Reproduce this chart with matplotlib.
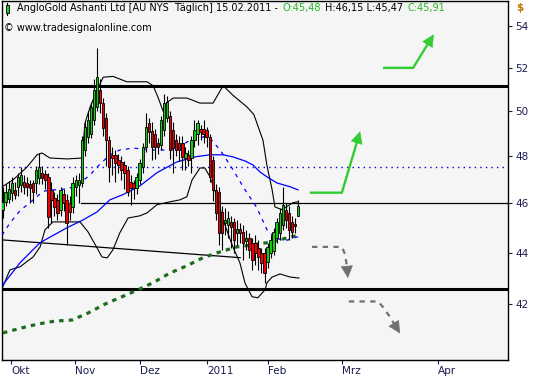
import numpy as np
import matplotlib
matplotlib.use('Agg')
import matplotlib.pyplot as plt
from matplotlib.offsetbox import TextArea, HPacker, AnchoredOffsetbox
from matplotlib.ticker import FixedLocator, FixedFormatter, NullLocator
from matplotlib.patches import Rectangle

# ---- candle data (bar index 0..97, late Sep 2010 .. 15.02.2011) ----
opens = [45.74, 46.07, 46.20, 46.45, 46.55, 46.70, 46.78, 46.90, 46.85, 46.80,
         46.86, 46.86, 47.08, 47.30, 47.25, 47.12, 46.57, 46.24, 46.15, 45.74,
         46.40, 46.15, 46.00, 45.86, 46.70, 46.78, 46.86, 48.28, 48.83, 49.00,
         49.60, 50.18, 50.96, 50.37, 49.70, 48.70, 48.05, 48.05, 47.85, 47.76,
         47.63, 47.41, 46.90, 46.86, 46.66, 46.99, 47.54, 48.40, 49.45, 49.10,
         49.00, 48.60, 48.50, 49.15, 49.70, 49.80, 49.15, 48.70, 48.60, 48.60,
         47.93, 48.05, 47.93, 48.70, 49.00, 49.20, 49.20, 49.15, 48.83, 47.85,
         46.57, 46.49, 45.65, 45.20, 45.12, 45.24, 45.24, 44.80, 44.95, 44.84,
         44.45, 44.60, 44.40, 44.40, 44.19, 43.99, 43.99, 43.64, 43.99, 44.07,
         44.60, 44.80, 45.12, 45.74, 45.61, 45.24, 45.16, 45.48]
highs = [46.70, 46.80, 46.95, 47.10, 46.90, 47.30, 47.55, 47.20, 47.10, 47.00,
         47.00, 47.60, 48.15, 47.60, 47.40, 47.30, 46.90, 46.50, 46.40, 46.70,
         46.60, 46.40, 46.30, 47.10, 47.20, 47.30, 48.90, 49.50, 50.00, 50.40,
         51.50, 52.93, 51.50, 50.60, 49.90, 48.90, 48.40, 48.30, 48.10, 48.00,
         47.80, 47.60, 47.20, 47.00, 47.30, 47.90, 48.60, 49.90, 49.70, 49.50,
         49.20, 48.80, 49.80, 50.80, 50.70, 50.00, 49.50, 49.00, 48.90, 48.90,
         48.40, 48.30, 48.90, 49.60, 49.60, 49.40, 49.60, 49.30, 49.00, 48.00,
         46.80, 46.70, 45.90, 45.80, 45.70, 45.50, 45.40, 45.30, 45.20, 45.10,
         44.90, 44.80, 44.60, 44.70, 44.50, 44.20, 44.20, 44.40, 44.70, 45.00,
         45.40, 45.80, 46.70, 46.00, 45.90, 45.50, 45.40, 46.15]
lows = [45.40, 45.90, 46.00, 46.10, 46.20, 46.30, 46.50, 46.40, 46.30, 46.00,
        46.00, 46.40, 46.80, 46.80, 46.60, 45.00, 45.20, 45.50, 45.30, 45.50,
        45.70, 44.30, 45.30, 45.60, 46.30, 46.00, 46.70, 48.00, 48.60, 48.80,
        49.40, 50.00, 49.90, 48.90, 47.60, 46.90, 47.20, 46.90, 47.30, 47.00,
        46.60, 46.30, 45.95, 46.20, 46.40, 46.80, 47.30, 48.20, 48.60, 47.85,
        47.90, 48.10, 48.30, 48.90, 49.50, 47.90, 47.30, 48.00, 47.80, 47.40,
        47.40, 47.60, 47.30, 48.40, 48.50, 48.70, 48.60, 48.40, 46.90, 46.10,
        45.30, 44.30, 44.10, 44.70, 44.60, 44.20, 44.00, 44.30, 44.40, 43.70,
        44.10, 43.80, 43.30, 43.50, 43.30, 43.20, 42.80, 43.40, 43.80, 43.90,
        44.40, 44.50, 44.90, 45.00, 44.50, 44.60, 44.80, 45.47]
closes = [46.07, 46.49, 46.60, 46.86, 46.35, 47.12, 47.20, 46.70, 46.70, 46.65,
          46.49, 47.41, 47.54, 47.08, 46.99, 45.45, 46.15, 45.86, 45.61, 46.57,
          46.00, 45.20, 45.65, 46.86, 46.99, 46.99, 48.70, 49.30, 49.60, 50.18,
          50.96, 51.56, 50.37, 49.24, 48.70, 47.54, 47.93, 47.70, 47.63, 47.41,
          47.30, 46.49, 46.66, 46.66, 47.12, 47.70, 48.40, 49.30, 49.05, 48.40,
          48.40, 48.40, 49.60, 50.37, 50.40, 48.28, 48.35, 48.28, 48.28, 47.98,
          48.15, 47.85, 48.70, 49.15, 49.45, 49.05, 49.00, 48.83, 47.12, 46.57,
          45.61, 44.80, 44.80, 45.32, 45.40, 45.04, 44.51, 44.95, 44.80, 44.40,
          44.60, 44.11, 43.72, 43.99, 43.83, 43.60, 43.20, 44.23, 44.51, 44.84,
          45.24, 45.61, 45.95, 45.32, 44.92, 44.84, 45.08, 45.91]

# ---- indicator lines read at sampled bar positions ----
sma_x = [-0.2, 5.7, 12.3, 21.1, 26.4, 31.0, 35.2, 39.5, 45.1, 50.7, 57.2, 63.2,
         68.1, 72.4, 75.6, 79.6, 82.2, 84.5, 86.8, 90.1, 94.4, 97.0]
sma_y = [42.70, 43.60, 44.40, 45.00, 45.32, 45.65, 46.15, 46.37, 46.74, 47.30, 47.76, 47.98,
         48.07, 48.07, 47.98, 47.80, 47.63, 47.33, 47.12, 46.86, 46.70, 46.57]
ema_x = [-0.2, 2.4, 5.7, 10.0, 13.2, 15.5, 18.8, 23.8, 28.7, 31.0, 35.2, 38.5, 42.8,
         49.4, 55.9, 61.5, 66.4, 68.7, 71.4, 75.3, 79.6, 83.5, 86.8, 89.4, 92.7, 97.0]
ema_y = [44.70, 45.20, 45.70, 46.15, 46.50, 46.57, 46.57, 46.70, 47.20, 47.54, 48.07, 48.28, 48.36,
         48.28, 48.28, 48.70, 48.87, 48.70, 48.28, 47.50, 46.57, 45.82, 44.92, 44.60, 44.47, 44.64]
ma200_x = [0.1, 6.0, 11.6, 17.2, 22.8, 28.0, 33.6, 39.2, 44.5, 49.4, 55.0, 60.5, 65.8,
           71.4, 76.9, 82.2, 88.5, 93.7, 96.7]
ma200_y = [40.92, 41.10, 41.25, 41.36, 41.40, 41.66, 42.00, 42.28, 42.55, 42.82, 43.20, 43.48, 43.80,
           44.03, 44.23, 44.31, 44.43, 44.60, 44.68]
bbu_x = [-0.2, 3.4, 8.0, 11.3, 12.9, 15.5, 21.1, 26.1, 27.0, 28.7, 31.0, 33.0, 36.2, 40.8,
         47.4, 49.4, 51.0, 52.7, 54.0, 56.0, 60.5, 64.8, 69.1, 72.4, 75.6, 80.2, 82.5, 85.5,
         86.8, 88.5, 89.4, 91.7, 95.3, 97.0]
bbu_y = [46.70, 46.99, 47.54, 48.07, 48.15, 47.93, 47.89, 47.93, 49.45, 50.18, 50.96, 51.56, 51.60, 51.35,
         51.35, 51.17, 50.64, 50.00, 50.40, 50.60, 50.60, 50.37, 50.37, 51.17, 50.73, 50.20, 49.85, 48.70,
         47.60, 46.57, 45.86, 45.74, 46.03, 46.07]
bbl_x = [-0.2, 2.4, 5.7, 10.0, 12.3, 13.9, 16.5, 25.4, 28.0, 31.0, 32.6, 34.3, 36.2, 38.5,
         41.2, 45.1, 47.4, 50.7, 55.0, 58.2, 60.5, 62.2, 64.8, 66.4, 68.1, 70.4, 72.4, 75.6,
         77.9, 79.6, 81.9, 83.8, 86.2, 86.8, 88.5, 91.1, 94.4, 97.3]
bbl_y = [42.60, 43.32, 43.44, 43.83, 44.23, 44.92, 45.24, 45.24, 44.84, 44.19, 43.83, 43.79, 44.11, 44.80,
         45.40, 45.49, 45.61, 45.95, 46.07, 46.15, 46.28, 46.99, 47.50, 47.50, 47.12, 46.28, 45.32, 44.23,
         43.60, 42.80, 42.28, 42.24, 42.55, 42.82, 43.04, 43.16, 43.04, 43.00]

# ---- horizontal levels / trendline ----
res_top = 51.17
sup_bottom = 42.58
level_46 = 46.00
dotted_level = 47.55
trend_x = [-0.2, 78.0]
trend_y = [44.51, 43.80]

# ---- scenario arrows ----
up1_x, up1_y = [100.9, 111.4, 117.4], [46.45, 46.45, 49.10]
up2_x, up2_y = [124.9, 134.8, 141.6], [52.0, 52.0, 53.6]
dn1_x, dn1_y = [101.6, 111.4, 112.4, 113.0, 113.4], [44.23, 44.23, 43.95, 43.50, 43.00]
dn2_x, dn2_y = [113.7, 123.3, 124.8, 127.0, 130.5], [42.10, 42.10, 41.90, 41.55, 40.90]

# ---- axis ----
month_pos = [2.74, 23.75, 45.1, 67.1, 87.1, 111.4, 143.0]
month_lbl = ['Okt', 'Nov', 'Dez', '2011', 'Feb', 'Mrz', 'Apr']
price_ticks = [42, 44, 46, 48, 50, 52, 54]

W, H = 533, 380
fig = plt.figure(figsize=(W / 100, H / 100), dpi=100)
fig.patch.set_facecolor('white')
ax = fig.add_axes([2 / W, 1 - 360 / H, 506 / W, 359 / H])
ax.set_facecolor('#f5f5f5')
ax.set_yscale('log')
ax.set_xlim(-0.22, 165.96)
ax.set_ylim(39.93, 55.24)

GREEN = '#11cc11'
RED = '#ee0000'

# levels
ax.axhline(res_top, color='black', lw=2.2, zorder=2)
ax.axhline(sup_bottom, color='black', lw=2.2, zorder=2)
ax.axhline(dotted_level, color='#0000ee', lw=1.0, ls=(0, (1, 3)), zorder=2)
ax.plot([25.7, 166], [level_46, level_46], color='black', lw=0.9, zorder=2)
ax.plot(trend_x, trend_y, color='black', lw=0.9, zorder=2)

# indicators
ax.plot(ma200_x, ma200_y, color='#1e6b1e', lw=2.3, ls=(0, (1.4, 1.6)), zorder=3)
ax.plot(bbu_x, bbu_y, color='black', lw=0.8, zorder=3)
ax.plot(bbl_x, bbl_y, color='black', lw=0.8, zorder=3)
ax.plot(sma_x, sma_y, color='#0000ff', lw=0.9, zorder=3)
ax.plot(ema_x, ema_y, color='#0000ff', lw=0.9, ls=(0, (3, 4)), zorder=3)

# candles
for i, (o, h, l, c) in enumerate(zip(opens, highs, lows, closes)):
    ax.vlines(i, l, h, color='black', lw=0.8, zorder=4)
    col = GREEN if c >= o else RED
    lo, hi = min(o, c), max(o, c)
    ax.add_patch(Rectangle((i - 0.4, lo), 0.8, max(hi - lo, 0.03), facecolor=col,
                           edgecolor='black', lw=0.6, zorder=5))

# arrows
def arrow(xs, ys, color, ls, lw, head_px=11):
    td = ax.transData
    p1 = np.array(td.transform((xs[-2], ys[-2])))
    p2 = np.array(td.transform((xs[-1], ys[-1])))
    u = (p2 - p1) / np.hypot(*(p2 - p1))
    back = td.inverted().transform(p2 - u * head_px * 0.6)
    tail = td.inverted().transform(p2 - u * head_px)
    ax.plot(list(xs[:-1]) + [back[0]], list(ys[:-1]) + [back[1]],
            color=color, lw=lw, ls=ls, zorder=6, solid_capstyle='butt', dash_capstyle='butt')
    ax.annotate('', xy=(xs[-1], ys[-1]), xytext=(tail[0], tail[1]),
                arrowprops=dict(arrowstyle='-|>,head_length=0.8,head_width=0.4',
                                color=color, lw=0.5, shrinkA=0, shrinkB=0), zorder=6)

arrow(up1_x, up1_y, '#33cc33', '-', 1.7)
arrow(up2_x, up2_y, '#33cc33', '-', 1.7)
arrow(dn1_x, dn1_y, '#707070', (0, (2.4, 2.4)), 1.6)
arrow(dn2_x, dn2_y, '#707070', (0, (2.4, 2.4)), 1.6)

# axes styling
for s in ax.spines.values():
    s.set_color('black')
    s.set_linewidth(1.0)
ax.yaxis.tick_right()
ax.yaxis.set_major_locator(FixedLocator(price_ticks))
ax.yaxis.set_major_formatter(FixedFormatter([str(p) for p in price_ticks]))
ax.yaxis.set_minor_locator(NullLocator())
ax.xaxis.set_major_locator(FixedLocator(month_pos))
ax.xaxis.set_major_formatter(FixedFormatter(month_lbl))
ax.tick_params(axis='y', which='both', direction='out', length=3, width=0.8, pad=2,
               labelsize=7.5, labelcolor='#1a1a50', color='#1a1a50')
ax.tick_params(axis='x', direction='out', length=3, width=0.8, pad=1,
               labelsize=7.5, labelcolor='#1a1a50', color='#1a1a50')
for t in ax.get_xticklabels():
    t.set_horizontalalignment('left')

fig.text(516 / W, 1 - 8 / H, '$', color='#c07800', fontsize=7.5, va='center', ha='left',
         fontweight='bold')

# header
fig.add_artist(Rectangle((5.5 / W, 1 - 13 / H), 3 / W, 8 / H, transform=fig.transFigure,
                         facecolor='#22cc22', edgecolor='black', lw=0.6, zorder=10))
fig.add_artist(plt.Line2D([7 / W, 7 / W], [1 - 15 / H, 1 - 3 / H], transform=fig.transFigure,
                          color='black', lw=0.8, zorder=9))
parts = [("AngloGold Ashanti Ltd [AU NYS  Täglich] 15.02.2011 -", 'black'),
         ("O:45,48", '#22bb22'), ("H:46,15 L:45,47", 'black'), ("C:45,91", '#22bb22')]
boxes = [TextArea(t, textprops=dict(color=c, fontsize=7.0)) for t, c in parts]
hp = HPacker(children=boxes, align='baseline', pad=0, sep=3)
ab = AnchoredOffsetbox(loc='upper left', child=hp, pad=0, frameon=False, borderpad=0,
                       bbox_to_anchor=(17 / W, 1 - 3 / H), bbox_transform=fig.transFigure)
fig.add_artist(ab)
fig.text(4 / W, 1 - 28 / H, '© www.tradesignalonline.com', fontsize=7.0, color='black',
         va='center', ha='left')

fig.savefig('out.png', dpi=100)
